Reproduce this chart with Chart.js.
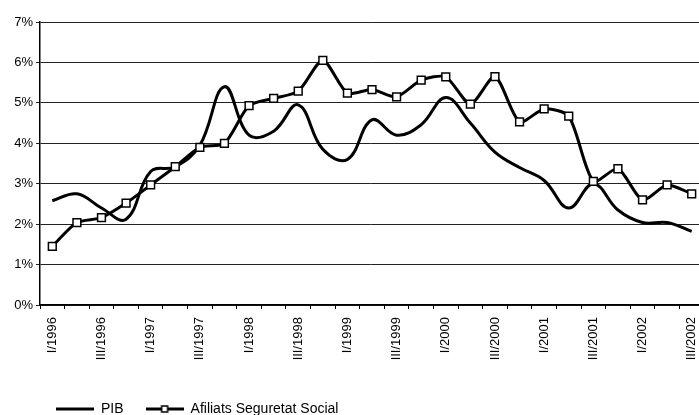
<!DOCTYPE html>
<html>
<head>
<meta charset="utf-8">
<script src="https://cdn.jsdelivr.net/npm/chart.js@4.4.1/dist/chart.umd.min.js"></script>
<style>
html,body{margin:0;padding:0;background:#ffffff;}
#wrap{width:699px;height:415px;}
</style>
</head>
<body>
<div id="wrap"><canvas id="c" width="699" height="415"></canvas></div>
<script>
const categories = [
  "I/1996","II/1996","III/1996","IV/1996",
  "I/1997","II/1997","III/1997","IV/1997",
  "I/1998","II/1998","III/1998","IV/1998",
  "I/1999","II/1999","III/1999","IV/1999",
  "I/2000","II/2000","III/2000","IV/2000",
  "I/2001","II/2001","III/2001","IV/2001",
  "I/2002","II/2002","III/2002"
];
const pib = [2.58, 2.75, 2.40, 2.12, 3.30, 3.42, 3.95, 5.40, 4.20, 4.30, 4.95, 3.85, 3.60, 4.58,
             4.20, 4.46, 5.13, 4.50, 3.78, 3.40, 3.08, 2.40, 3.00, 2.35, 2.04, 2.04, 1.82];
const afiliats = [1.45, 2.04, 2.16, 2.52, 2.97, 3.42, 3.90, 4.00, 4.93, 5.11, 5.29, 6.05, 5.24, 5.33,
                  5.15, 5.56, 5.64, 4.97, 5.65, 4.53, 4.85, 4.67, 3.06, 3.37, 2.60, 2.97, 2.75];
const seriesNames = ["PIB", "Afiliats Seguretat Social"];
const yTickValues = [0, 1, 2, 3, 4, 5, 6, 7];

const FONT = "'Liberation Sans', Arial, Helvetica, sans-serif";

function legendImage(withMarker) {
  const cv = document.createElement('canvas');
  cv.width = 38; cv.height = 12;
  const g = cv.getContext('2d');
  g.strokeStyle = '#000'; g.lineWidth = 3;
  g.beginPath(); g.moveTo(0, 6); g.lineTo(38, 6); g.stroke();
  if (withMarker) {
    g.fillStyle = '#fff'; g.lineWidth = 1.5;
    g.fillRect(16, 3, 6, 6); g.strokeRect(16, 3, 6, 6);
  }
  return cv;
}
const legendImgs = [legendImage(false), legendImage(true)];

// The plot area of the original runs a few pixels past the right edge of the picture.
const PLOT_RIGHT = 704;

const layoutTweak = {
  id: 'layoutTweak',
  afterLayout(chart) {
    const lg = chart.legend;
    if (lg) { lg.left = 34; lg.top = 415 - lg.height + 11; }
    const xs = chart.scales.x;
    if (xs) {
      xs.right = PLOT_RIGHT;
      xs.width = xs.right - xs.left;
      xs.configure();
    }
    const ca = chart.chartArea;
    ca.right = PLOT_RIGHT;
    ca.width = ca.right - ca.left;
  }
};

new Chart(document.getElementById('c'), {
  type: 'line',
  data: {
    labels: categories,
    datasets: [
      {
        label: seriesNames[0], data: pib, order: 1,
        borderColor: '#000', borderWidth: 3, tension: 0.4,
        pointRadius: 0, fill: false
      },
      {
        label: seriesNames[1], data: afiliats, order: 0,
        borderColor: '#000', borderWidth: 3, tension: 0.25,
        pointStyle: 'rect', pointRadius: 5.5, pointBackgroundColor: '#fff',
        pointBorderColor: '#000', pointBorderWidth: 1.5, fill: false
      }
    ]
  },
  options: {
    responsive: false,
    animation: false,
    events: [],
    layout: { autoPadding: false, padding: { top: 22, right: 0, bottom: 0, left: 0 } },
    plugins: {
      tooltip: { enabled: false },
      legend: {
        position: 'bottom', align: 'start',
        labels: {
          usePointStyle: true, pointStyleWidth: 38, boxHeight: 12,
          padding: 22, color: '#000',
          font: { family: FONT, size: 14 },
          generateLabels: (chart) => chart.data.datasets.map((ds, i) => ({
            text: ds.label, pointStyle: legendImgs[i], datasetIndex: i,
            fontColor: '#000', lineWidth: 0, hidden: false,
            strokeStyle: 'rgba(0,0,0,0)', fillStyle: 'rgba(0,0,0,0)'
          }))
        }
      }
    },
    scales: {
      x: {
        type: 'category', offset: true,
        grid: { display: true, drawOnChartArea: false, drawTicks: true, tickLength: 4, color: '#000', offset: true },
        border: { display: true, color: '#000', width: 1.5 },
        ticks: {
          autoSkip: false, maxRotation: 90, minRotation: 90, padding: 8, color: '#000',
          font: { family: FONT, size: 13 },
          callback: (v, i) => (i % 2 === 0 ? categories[i] : '')
        },
        afterFit: (s) => {
          const lh = s.chart.legend ? s.chart.legend.height : 0;
          s.height = 415 - 305 - lh;
          s.paddingLeft = 0;
          s.paddingRight = 0;
        }
      },
      y: {
        min: 0, max: 7,
        afterBuildTicks: (s) => { s.ticks = yTickValues.map(v => ({ value: v })); },
        grid: { color: '#222', lineWidth: 1, drawTicks: true, tickLength: 4 },
        border: { display: true, color: '#000', width: 1.5 },
        ticks: {
          color: '#000', padding: 3,
          font: { family: FONT, size: 13 },
          callback: (v) => v + '%'
        },
        afterFit: (s) => { s.width = 40; }
      }
    }
  },
  plugins: [layoutTweak]
});
</script>
</body>
</html>
